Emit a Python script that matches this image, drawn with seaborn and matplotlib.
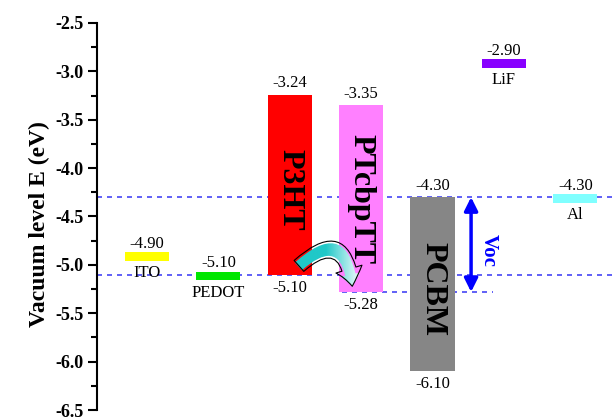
import numpy as np
import pandas as pd
import matplotlib
matplotlib.use("Agg")
import matplotlib.pyplot as plt
import seaborn as sns
from matplotlib.patches import FancyArrowPatch
from matplotlib.colors import LinearSegmentedColormap
from matplotlib.ticker import MultipleLocator, FormatStrFormatter

# Energy levels (eV) of each layer of the device
materials = ["ITO", "PEDOT", "P3HT", "PTcbpTT", "PCBM", "LiF", "Al"]
upper_level = [-4.90, -5.10, -3.24, -3.35, -4.30, -2.90, -4.30]     # LUMO / work function
lower_level = [np.nan, np.nan, -5.10, -5.28, -6.10, np.nan, np.nan]  # HOMO (organics only)
bar_colors = ["#ffff00", "#00e600", "#ff0000", "#ff80ff", "#868686", "#8800ff", "#80ffff"]
top_labels = ["-4.90", "-5.10", "-3.24", "-3.35", "-4.30", "-2.90", "-4.30"]
bottom_labels = ["", "", "-5.10", "-5.28", "-6.10", "", ""]
inner_names = ["", "", "P3HT", "PTcbpTT", "PCBM", "", ""]
outer_names = ["ITO", "PEDOT", "", "", "", "LiF", "Al"]
voc_range = [-4.30, -5.28]
guide_levels = [-4.30, -5.10]

sns.set_style("ticks")
plt.rcParams["font.family"] = ["Liberation Serif", "DejaVu Serif"]
plt.rcParams["axes.unicode_minus"] = False
plt.rcParams["text.color"] = "black"
plt.rcParams["axes.labelcolor"] = "black"
plt.rcParams["ytick.color"] = "black"
plt.rcParams["axes.edgecolor"] = "black"

upper = np.array(upper_level)
lower = np.array(lower_level)
thin = np.isnan(lower)
# Electrodes / interlayers are drawn as thin level strips
tops = np.where(thin, upper + 0.03, upper)
bottoms = np.where(thin, upper - 0.06, lower)

df = pd.DataFrame({"material": materials, "span": tops - bottoms})

fig = plt.figure(figsize=(6.16, 4.19), dpi=100)
ax = fig.add_axes([97 / 616, 9 / 419, 519 / 616, 387 / 419])

sns.barplot(data=df, x="material", y="span", bottom=bottoms, width=0.62,
            color="#888888", saturation=1, errorbar=None, linewidth=0,
            ax=ax, zorder=3)
for patch, c in zip(ax.patches, bar_colors):
    patch.set_facecolor(c)
    patch.set_edgecolor("none")

# Dashed guide lines at the relevant levels
dash_kw = dict(color="#4646f5", lw=1.2, ls=(0, (3, 3)), zorder=1)
for lv in guide_levels:
    ax.axhline(lv, **dash_kw)
ax.hlines(lower_level[3], 2.73, 4.85, **dash_kw)

# Level values and layer names
inner_shift = [0, 0, -0.05, 0, -0.05, 0, 0]
for i in range(len(materials)):
    ax.annotate(top_labels[i], (i, upper[i]), xytext=(0, 8), textcoords="offset points",
                ha="center", va="center", fontsize=12, color="black", zorder=7)
    if bottom_labels[i]:
        ax.annotate(bottom_labels[i], (i, lower[i]), xytext=(0, -9.5), textcoords="offset points",
                    ha="center", va="center", fontsize=12, color="black", zorder=7)
    if outer_names[i]:
        ax.annotate(outer_names[i], (i, upper[i]), xytext=(0, -13), textcoords="offset points",
                    ha="center", va="center", fontsize=12, color="black", zorder=7)
    if inner_names[i]:
        ax.text(i, (upper[i] + lower[i]) / 2 + inner_shift[i], inner_names[i], rotation=-90,
                ha="center", va="center", fontsize=23, fontweight="bold",
                color="black", zorder=7)

# Open-circuit voltage span
ax.annotate("", xy=(4.54, voc_range[1]), xytext=(4.54, voc_range[0]),
            arrowprops=dict(arrowstyle="<|-|>,head_length=0.5,head_width=0.25",
                            color="#0000ff", lw=2.5, mutation_scale=16,
                            shrinkA=0, shrinkB=0), zorder=6)
ax.text(4.79, -4.85, "Voc", rotation=-90, ha="center", va="center",
        color="#0000ff", fontsize=15, fontweight="bold", zorder=7)

# Curved charge-transfer arrow from P3HT to PTcbpTT
arrow = FancyArrowPatch((2.10, -5.03), (2.88, -5.25), connectionstyle="arc3,rad=-1.0",
                        arrowstyle="simple,head_length=0.9,head_width=1.4,tail_width=0.75",
                        mutation_scale=14, facecolor="none", edgecolor="black",
                        lw=0.8, zorder=6)
ax.add_patch(arrow)
grad = np.linspace(0, 1, 256)[None, :]
cmap = LinearSegmentedColormap.from_list("teal_fade", ["#20c8c8", "#20c8c8", "#ffffff"])
im = ax.imshow(grad, extent=(2.0, 3.0, -5.4, -4.7), cmap=cmap, aspect="auto", zorder=5)
im.set_clip_path(arrow)

ax.set_xlim(-0.70, 6.57)
ax.set_ylim(-6.5, -2.5)
ax.yaxis.set_major_locator(MultipleLocator(0.5))
ax.yaxis.set_minor_locator(MultipleLocator(0.25))
ax.yaxis.set_major_formatter(FormatStrFormatter("%.1f"))
ax.tick_params(axis="y", which="major", length=6.5, width=1.5, labelsize=13, pad=3,
               color="black", labelcolor="black")
ax.tick_params(axis="y", which="minor", length=4, width=1.5, color="black")
for lab in ax.get_yticklabels():
    lab.set_fontweight("bold")
for side in ["top", "right", "bottom"]:
    ax.spines[side].set_visible(False)
ax.spines["left"].set_linewidth(1.5)
ax.spines["left"].set_color("black")
ax.set_xticks([])
ax.set_xlabel("")
ax.set_ylabel("Vacuum level E (eV)", fontsize=17, fontweight="bold", color="black")
ax.yaxis.set_label_coords(-0.09, 0.48)
ax.set_facecolor("white")

fig.savefig("out.png", dpi=100)
